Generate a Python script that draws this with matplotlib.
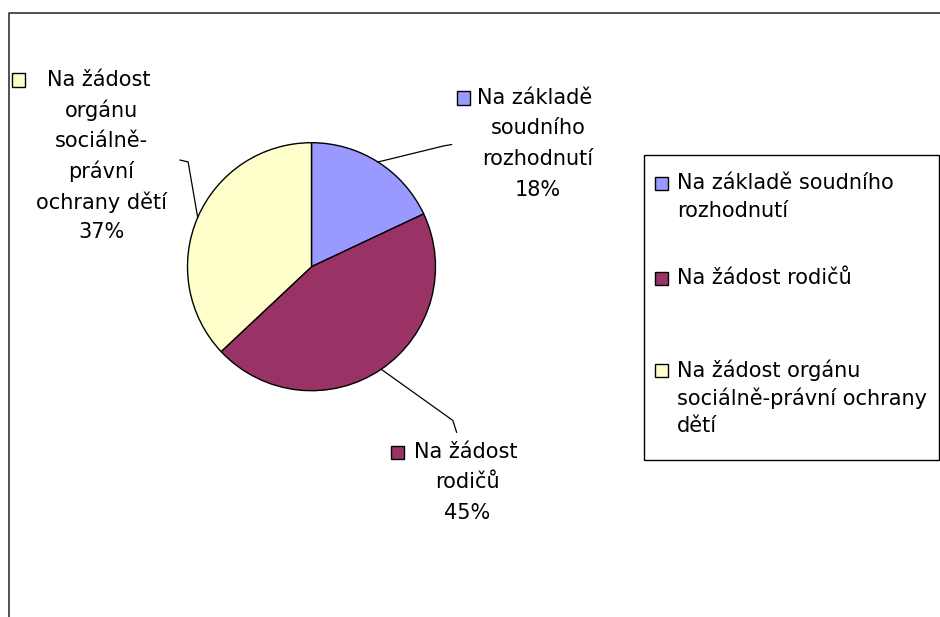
import numpy as np
import matplotlib
matplotlib.use("Agg")
import matplotlib.pyplot as plt
from matplotlib.patches import Rectangle
from matplotlib.lines import Line2D

# data
categories = ["Na základě soudního rozhodnutí", "Na žádost rodičů",
              "Na žádost orgánu sociálně-právní ochrany dětí"]
shares = [18, 45, 37]
colors = ["#9999FF", "#993366", "#FFFFCC"]

# data-label text (first line goes next to the swatch)
label_lines = [
    ["Na základě", "soudního", "rozhodnutí", "18%"],
    ["Na žádost", "rodičů", "45%"],
    ["Na žádost", "orgánu", "sociálně-", "právní", "ochrany dětí", "37%"],
]
legend_lines = [
    ["Na základě soudního", "rozhodnutí"],
    ["Na žádost rodičů"],
    ["Na žádost orgánu", "sociálně-právní ochrany", "dětí"],
]

W, H = 940, 617
FS = 15
plt.rcParams["font.family"] = "DejaVu Sans"


def fx(x):
    return x / W


def fy(y):
    return 1 - y / H


fig = plt.figure(figsize=(W / 100, H / 100), dpi=100)

# ---------------------------------------------------------------------------
# pie
# ---------------------------------------------------------------------------
cx, cy, r = 311.5, 266.7, 124
ax = fig.add_axes([fx(cx - r), fy(cy + r), 2 * r / W, 2 * r / H])
wedges, _ = ax.pie(shares, colors=colors, startangle=90, counterclock=False,
                   radius=1, wedgeprops=dict(edgecolor="black", linewidth=1.0))
ax.set_xlim(-1, 1)
ax.set_ylim(-1, 1)
ax.set_aspect("equal")
ax.axis("off")

# leader lines: elbow and end point (in radius units)
leaders = [
    [(1.07, 0.975), (1.13, 0.985)],
    [(1.14, -1.24), (1.17, -1.335)],
    [(-0.995, 0.845), (-1.06, 0.86)],
]
for w, pts in zip(wedges, leaders):
    mid = np.deg2rad((w.theta1 + w.theta2) / 2)
    xs = [np.cos(mid)] + [p[0] for p in pts]
    ys = [np.sin(mid)] + [p[1] for p in pts]
    ax.add_line(Line2D(xs, ys, color="black", lw=0.9, clip_on=False))

# ---------------------------------------------------------------------------
# data labels (pixel layout: swatch x, first-line text x, first line y,
# centre x of the remaining lines)
# ---------------------------------------------------------------------------
label_pos = [(457, 477, 98, 538), (391, 414, 452, 467), (12, 47, 80, 101)]
LH = 30.5
for lines, col, (sx, tx, y0, tcx) in zip(label_lines, colors, label_pos):
    fig.add_artist(Rectangle((fx(sx), fy(y0 + 6.5)), 13 / W, 13 / H,
                             transform=fig.transFigure, facecolor=col,
                             edgecolor="black", lw=1.0))
    fig.text(fx(tx), fy(y0), lines[0], fontsize=FS, ha="left", va="center")
    for i, t in enumerate(lines[1:], start=1):
        fig.text(fx(tcx), fy(y0 + i * LH), t, fontsize=FS, ha="center", va="center")

# ---------------------------------------------------------------------------
# legend (drawn by hand to keep Excel's uneven spacing)
# ---------------------------------------------------------------------------
fig.add_artist(Rectangle((fx(644), fy(460)), (939 - 644) / W, (460 - 155) / H,
                         transform=fig.transFigure, facecolor="white",
                         edgecolor="black", lw=1.0))
legend_y = [183, 278, 370]
for lines, col, y0 in zip(legend_lines, colors, legend_y):
    fig.add_artist(Rectangle((fx(655), fy(y0 + 6.5)), 13 / W, 13 / H,
                             transform=fig.transFigure, facecolor=col,
                             edgecolor="black", lw=1.0))
    for i, t in enumerate(lines):
        fig.text(fx(677), fy(y0 + i * 28), t, fontsize=FS, ha="left", va="center")

# chart area frame (only top and left edges visible)
fig.add_artist(Line2D([fx(9), fx(9), fx(W)], [fy(H), fy(13), fy(13)],
                      transform=fig.transFigure, color="#333333", lw=1.2))

fig.savefig("out.png", dpi=100, facecolor="white")
